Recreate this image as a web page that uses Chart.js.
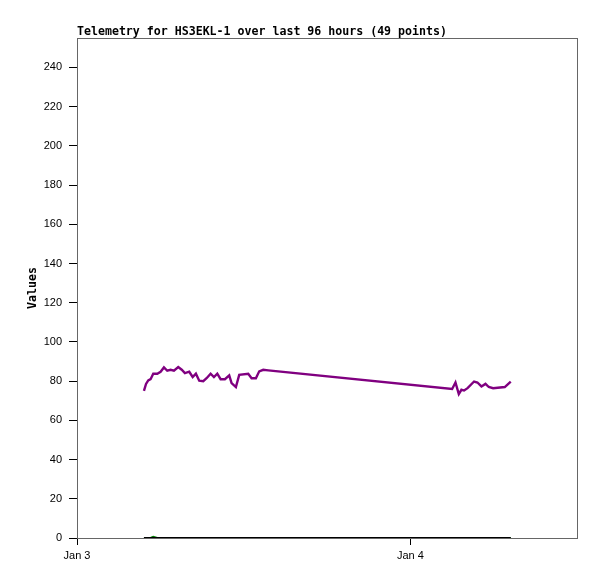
<!DOCTYPE html>
<html>
<head>
<meta charset="utf-8">
<script src="https://cdn.jsdelivr.net/npm/chart.js@4.4.1/dist/chart.umd.min.js"></script>
<style>
  body { margin: 0; background: #fff; }
  canvas { display: block; }
</style>
</head>
<body>
<canvas id="telemetryChart" width="597" height="579"></canvas>
<script>
// hours since Jan 3 00:00
const hours = [4.82, 4.97, 5.13, 5.30, 5.49, 5.78, 6.02, 6.26, 6.50, 6.74,
    6.98, 7.29, 7.54, 7.77, 8.08, 8.33, 8.56, 8.80, 9.09, 9.33,
    9.62, 9.86, 10.10, 10.34, 10.65, 10.96, 11.13, 11.44, 11.68, 12.33,
    12.57, 12.88, 13.12, 13.41, 13.77, 27.01, 27.25, 27.49, 27.68, 27.87,
    28.12, 28.59, 28.83, 29.12, 29.41, 29.65, 29.96, 30.80, 31.23];
const purpleValues = [75, 78.6, 80.4, 81, 83.8, 83.8, 84.8, 87, 85.3, 85.8,
    85.3, 87.2, 85.8, 84.1, 84.8, 82.1, 83.8, 80.2, 80, 81.5,
    83.8, 82.1, 83.8, 81, 81, 82.9, 79, 77, 83.2, 83.8,
    81.5, 81.5, 85, 85.8, 85.5, 76, 79.3, 73.4, 75.6, 75.2,
    76.4, 79.8, 79.3, 77.3, 78.6, 77, 76.4, 77, 79.8];
const greenValues = [0, 0, 0, 0, 0.6, 0, 0, 0, 0, 0,
    0, 0, 0, 0, 0, 0, 0, 0, 0, 0,
    0, 0, 0, 0, 0, 0, 0, 0, 0, 0,
    0, 0, 0, 0, 0, 0, 0, 0, 0, 0,
    0, 0, 0, 0, 0, 0, 0, 0, 0];
const blackValues = hours.map(() => 0);
const xTickValues = [0, 24];
const xTickLabels = ['Jan 3', 'Jan 4'];
const yTickValues = [0, 20, 40, 60, 80, 100, 120, 140, 160, 180, 200, 220, 240];
const titleText = 'Telemetry for HS3EKL-1 over last 96 hours (49 points)';

function toPoints(values) {
    return values.map((v, i) => ({ x: hours[i], y: v }));
}

const framePlugin = {
    id: 'frame',
    beforeDatasetsDraw(chart) {
        const { ctx, chartArea } = chart;
        ctx.save();
        ctx.strokeStyle = '#666';
        ctx.lineWidth = 1;
        ctx.strokeRect(chartArea.left + 0.5, chartArea.top + 0.5,
            chartArea.right - chartArea.left, chartArea.bottom - chartArea.top);
        ctx.restore();
    },
    afterDraw(chart) {
        const { ctx, chartArea } = chart;
        ctx.save();
        ctx.fillStyle = '#000';
        ctx.font = 'bold 11.6px "DejaVu Sans Mono", monospace';
        ctx.textBaseline = 'alphabetic';
        ctx.textAlign = 'left';
        ctx.fillText(titleText, chartArea.left, 35);
        ctx.restore();
    }
};

Chart.defaults.color = '#000';

new Chart(document.getElementById('telemetryChart'), {
    type: 'line',
    data: {
        datasets: [
            { data: toPoints(purpleValues), borderColor: '#800080', borderWidth: 2.4, order: 0 },
            { data: toPoints(blackValues), borderColor: '#000000', borderWidth: 2, order: 1 },
            { data: toPoints(greenValues), borderColor: '#008000', borderWidth: 2, order: 2 }
        ]
    },
    options: {
        responsive: false,
        animation: false,
        layout: { padding: { top: 38, right: 20, left: 0, bottom: 0 } },
        elements: {
            point: { radius: 0 },
            line: { tension: 0, fill: false }
        },
        scales: {
            x: {
                type: 'linear',
                min: 0,
                max: 36,
                afterBuildTicks: scale => { scale.ticks = xTickValues.map(v => ({ value: v })); },
                afterFit: scale => { scale.height = 41; },
                grid: { drawOnChartArea: false, drawTicks: true, tickLength: 7, color: '#000' },
                border: { display: true, color: '#000' },
                ticks: {
                    padding: 4,
                    maxRotation: 0,
                    font: { family: '"Liberation Sans", sans-serif', size: 11 },
                    callback: v => xTickLabels[xTickValues.indexOf(v)]
                }
            },
            y: {
                min: 0,
                max: 255,
                afterBuildTicks: scale => { scale.ticks = yTickValues.map(v => ({ value: v })); },
                afterFit: scale => { scale.width = 77; },
                grid: { drawOnChartArea: false, drawTicks: true, tickLength: 8, color: '#000' },
                border: { display: true, color: '#000' },
                ticks: {
                    padding: 7,
                    font: { family: '"Liberation Sans", sans-serif', size: 11 }
                },
                title: {
                    display: true,
                    text: 'Values',
                    padding: { top: 26, bottom: 0 },
                    font: { family: '"DejaVu Sans Mono", monospace', size: 11.6, weight: 'bold' }
                }
            }
        },
        plugins: {
            legend: { display: false },
            tooltip: { enabled: false }
        }
    },
    plugins: [framePlugin]
});
</script>
</body>
</html>
